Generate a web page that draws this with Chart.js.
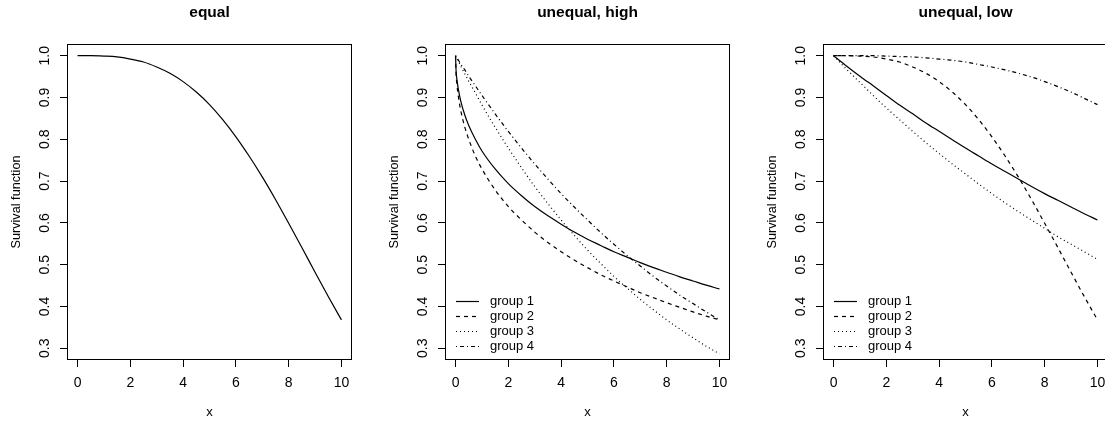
<!DOCTYPE html>
<html><head><meta charset="utf-8">
<script src="https://cdn.jsdelivr.net/npm/chart.js@4.4.1/dist/chart.umd.min.js"></script>
<style>
html,body{margin:0;padding:0;background:#fff;overflow:hidden;width:1105px;height:423px;position:relative;}
.panel{position:absolute;top:0;width:378px;height:423px;}
canvas{display:block;}
</style></head><body>
<div class="panel" style="left:0px"><canvas id="c1" width="378" height="423"></canvas></div>
<div class="panel" style="left:378px"><canvas id="c2" width="378" height="423"></canvas></div>
<div class="panel" style="left:756px"><canvas id="c3" width="378" height="423"></canvas></div>
<script>
// ---- data ----
const panelTitles = ['equal', 'unequal, high', 'unequal, low'];
const groupLabels = ['group 1', 'group 2', 'group 3', 'group 4'];
const xAxisLabel = 'x';
const yAxisLabel = 'Survival function';
const xTicks = [0, 2, 4, 6, 8, 10];
const yTicks = [0.3, 0.4, 0.5, 0.6, 0.7, 0.8, 0.9, 1.0];

// panel 1: equal
const xEqual = [0,0.5,1,1.5,2,2.5,3,3.5,4,4.5,5,5.5,6,6.5,7,7.5,8,8.5,9,9.5,10];
const sEqual = [1.000,1.000,0.999,0.997,0.992,0.985,0.973,0.958,0.938,0.913,0.883,0.847,0.806,0.760,0.710,0.656,0.599,0.541,0.482,0.424,0.368];

// panel 2: unequal, high
const xHigh = [0,0.02,0.05,0.1,0.2,0.35,0.5,0.75,1,1.5,2,2.5,3,3.5,4,4.5,5,5.5,6,6.5,7,7.5,8,8.5,9,9.5,10];
const high1 = [1.000,0.964,0.944,0.922,0.891,0.858,0.833,0.800,0.772,0.729,0.694,0.665,0.639,0.617,0.597,0.578,0.561,0.546,0.531,0.518,0.505,0.493,0.482,0.471,0.461,0.451,0.442];
const high2 = [1.000,0.956,0.932,0.905,0.868,0.829,0.800,0.760,0.729,0.679,0.639,0.607,0.578,0.553,0.531,0.511,0.493,0.476,0.461,0.447,0.433,0.421,0.409,0.398,0.387,0.377,0.368];
const high3 = [1.000,0.998,0.994,0.988,0.975,0.957,0.939,0.911,0.882,0.829,0.779,0.732,0.687,0.646,0.607,0.570,0.535,0.503,0.472,0.444,0.417,0.392,0.368,0.346,0.325,0.305,0.287];
const high4 = [1.000,0.998,0.995,0.990,0.980,0.966,0.951,0.928,0.905,0.861,0.819,0.779,0.741,0.705,0.670,0.638,0.607,0.577,0.549,0.522,0.497,0.472,0.449,0.427,0.407,0.387,0.368];

// panel 3: unequal, low
const xLow = [0,0.5,1,1.5,2,2.5,3,3.5,4,4.5,5,5.5,6,6.5,7,7.5,8,8.5,9,9.5,10];
const low1 = [1.000,0.975,0.951,0.928,0.905,0.882,0.861,0.839,0.819,0.799,0.779,0.760,0.741,0.723,0.705,0.687,0.670,0.654,0.638,0.622,0.607];
const low2 = [1.000,1.000,0.999,0.997,0.992,0.985,0.973,0.958,0.938,0.913,0.883,0.847,0.806,0.760,0.710,0.656,0.599,0.541,0.482,0.424,0.368];
const low3 = [1.000,0.967,0.936,0.905,0.875,0.847,0.819,0.792,0.766,0.741,0.717,0.693,0.670,0.648,0.627,0.607,0.587,0.567,0.549,0.531,0.513];
const low4 = [1.000,1.000,1.000,1.000,0.999,0.998,0.997,0.995,0.992,0.989,0.985,0.979,0.973,0.966,0.958,0.949,0.938,0.926,0.913,0.898,0.883];

// ---- styling ----
const FONT = '"Liberation Sans", Arial, Helvetica, sans-serif';
Chart.defaults.font.family = FONT;
Chart.defaults.color = '#000';
const dashes = [[], [4, 4], [1, 3], [1, 3, 4, 3]];

function series(xs, ys, label, i) {
  return {
    label: label,
    data: xs.map((x, k) => ({x: x, y: ys[k]})),
    borderColor: '#000',
    borderWidth: 1.2,
    borderDash: dashes[i],
    pointRadius: 0,
    fill: false,
    cubicInterpolationMode: 'monotone',
    clip: 2
  };
}

const boxPlugin = {
  id: 'rbox',
  afterDraw(chart) {
    const a = chart.chartArea, ctx = chart.ctx;
    ctx.save();
    ctx.strokeStyle = '#000';
    ctx.lineWidth = 1;
    const x0 = Math.round(a.left) + 0.5, x1 = Math.round(a.right) - 0.5;
    const y0 = Math.round(a.top) + 0.5, y1 = Math.round(a.bottom) - 0.5;
    ctx.strokeRect(x0, y0, x1 - x0, y1 - y0);
    ctx.restore();
  }
};

const rLegendPlugin = {
  id: 'rlegend',
  afterDraw(chart) {
    const ds = chart.data.datasets;
    if (ds.length < 2) return;
    const a = chart.chartArea, ctx = chart.ctx;
    ctx.save();
    ctx.strokeStyle = '#000';
    ctx.fillStyle = '#000';
    ctx.lineWidth = 1.2;
    ctx.font = '13px ' + FONT;
    ctx.textBaseline = 'middle';
    ctx.textAlign = 'left';
    const n = ds.length;
    ds.forEach((d, i) => {
      const y = Math.round(a.bottom - 14 - (n - 1 - i) * 15) + 0.5;
      ctx.setLineDash(d.borderDash || []);
      ctx.beginPath();
      ctx.moveTo(a.left + 11, y);
      ctx.lineTo(a.left + 34, y);
      ctx.stroke();
      ctx.setLineDash([]);
      ctx.fillText(d.label, a.left + 45, y);
    });
    ctx.restore();
  }
};

function makeChart(id, title, datasets) {
  return new Chart(document.getElementById(id), {
    type: 'line',
    data: {datasets: datasets},
    plugins: [boxPlugin, rLegendPlugin],
    options: {
      responsive: false,
      animation: false,
      devicePixelRatio: 1,
      events: [],
      layout: {padding: {left: 0, right: 26, top: 0, bottom: 0}},
      plugins: {
        legend: {display: false},
        tooltip: {enabled: false},
        title: {
          display: true,
          text: title,
          fullSize: false,
          color: '#000',
          font: {size: 15.5, weight: 'bold', family: FONT},
          padding: {top: 3.8, bottom: 21.6}
        }
      },
      scales: {
        x: {
          type: 'linear',
          min: -0.4,
          max: 10.4,
          afterBuildTicks: s => { s.ticks = xTicks.map(v => ({value: v})); },
          afterFit: s => { s.height = 63; },
          grid: {drawOnChartArea: false, drawTicks: true, tickLength: 7, tickColor: '#000', tickWidth: 1},
          border: {display: false},
          ticks: {
            color: '#000', padding: 7.3, maxRotation: 0, minRotation: 0, autoSkip: false,
            font: {size: 14, family: FONT},
            callback: v => String(v)
          },
          title: {
            display: true, text: xAxisLabel, color: '#000',
            font: {size: 13, family: FONT},
            padding: {top: 0, bottom: 3.0}
          }
        },
        y: {
          type: 'linear',
          min: 0.272,
          max: 1.028,
          afterBuildTicks: s => { s.ticks = yTicks.map(v => ({value: v})); },
          afterFit: s => { s.width = 67; },
          grid: {drawOnChartArea: false, drawTicks: true, tickLength: 7, tickColor: '#000', tickWidth: 1},
          border: {display: false},
          ticks: {
            color: '#000', padding: 5.3, minRotation: 90, maxRotation: 90, crossAlign: 'center',
            font: {size: 14, family: FONT},
            callback: v => Number(v).toFixed(1)
          },
          title: {
            display: true, text: yAxisLabel, color: '#000',
            font: {size: 12.7, family: FONT},
            padding: {top: 8.5, bottom: 0}
          }
        }
      }
    }
  });
}

makeChart('c1', panelTitles[0], [series(xEqual, sEqual, 'equal', 0)]);
makeChart('c2', panelTitles[1], [
  series(xHigh, high1, groupLabels[0], 0),
  series(xHigh, high2, groupLabels[1], 1),
  series(xHigh, high3, groupLabels[2], 2),
  series(xHigh, high4, groupLabels[3], 3)
]);
makeChart('c3', panelTitles[2], [
  series(xLow, low1, groupLabels[0], 0),
  series(xLow, low2, groupLabels[1], 1),
  series(xLow, low3, groupLabels[2], 2),
  series(xLow, low4, groupLabels[3], 3)
]);
</script>
</body></html>
